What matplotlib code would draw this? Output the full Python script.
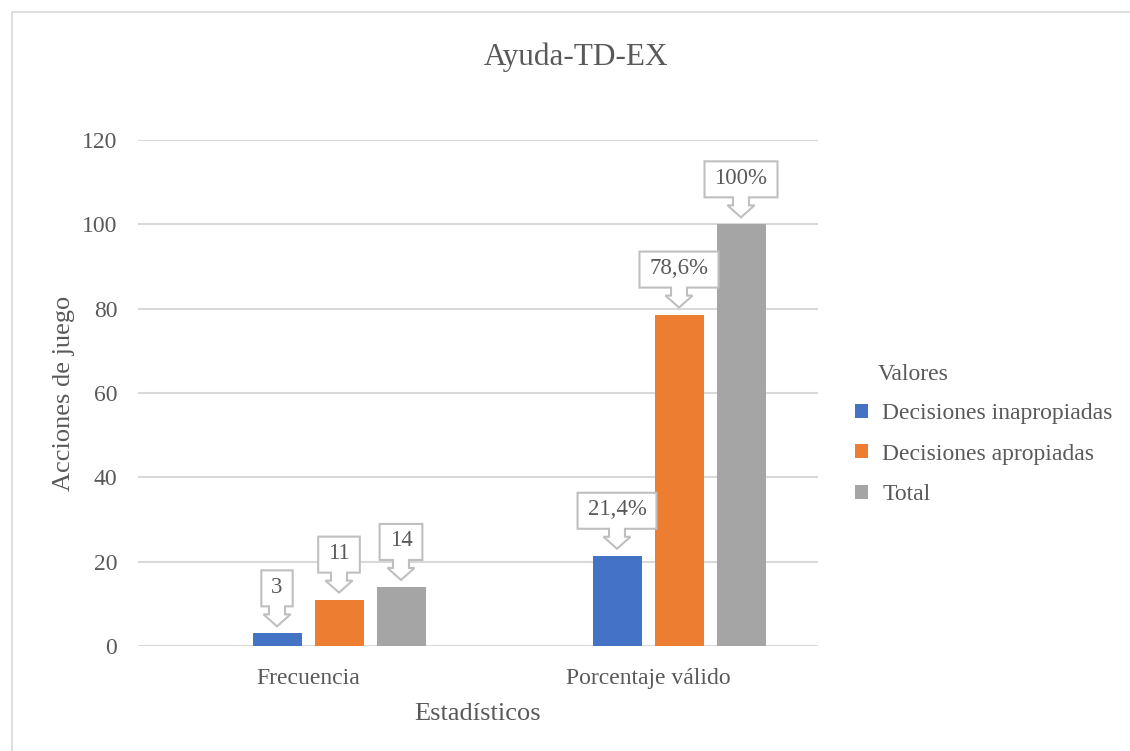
import matplotlib.pyplot as plt
from matplotlib.patches import Polygon, Rectangle

categories = ['Frecuencia', 'Porcentaje válido']
series = ['Decisiones inapropiadas', 'Decisiones apropiadas', 'Total']
values = [
    [3, 21.4],
    [11, 78.6],
    [14, 100],
]
labels = [
    ['3', '21,4%'],
    ['11', '78,6%'],
    ['14', '100%'],
]
colors = ['#4472C4', '#ED7D31', '#A5A5A5']
yticks = [0, 20, 40, 60, 80, 100, 120]

plt.rcParams['font.family'] = ['Liberation Serif', 'DejaVu Serif']
txt = '#595959'

W, H = 1130, 751
fig = plt.figure(figsize=(W / 100, H / 100), dpi=100)
ax = fig.add_axes([138 / W, 1 - 646 / H, 680 / W, 506 / H])

# Excel layout: 4 slots per category (first one empty), so groups look shifted
step = 62 / 340
width = 49 / 340
offsets = [-0.5 * step, 0.5 * step, 1.5 * step]

for i, name in enumerate(series):
    xs = [j + offsets[i] for j in range(len(categories))]
    ax.bar(xs, values[i], width=width, color=colors[i], label=name, zorder=3)

ax.set_xlim(-0.5, 1.5)
ax.set_ylim(0, 120)
ax.set_yticks(yticks)
ax.set_xticks(range(len(categories)))
ax.set_xticklabels(categories)
ax.grid(axis='y', color='#d9d9d9', lw=1.5, zorder=0)
for s in ax.spines.values():
    s.set_visible(False)
ax.tick_params(length=0, labelsize=17, colors=txt)
ax.tick_params(axis='y', pad=15)
ax.tick_params(axis='x', pad=16)
ax.set_ylabel('Acciones de juego', fontsize=19, color=txt, labelpad=5)
ax.set_xlabel('Estadísticos', fontsize=19, color=txt, labelpad=10)

fig.text(576 / W, 1 - 57 / H, 'Ayuda-TD-EX', ha='center', va='center', fontsize=22.5, color=txt)

# callout labels (box with down arrow)
fig.canvas.draw()
rend = fig.canvas.get_renderer()
inv = ax.transData.inverted()
for i in range(len(series)):
    for j in range(len(categories)):
        xc = j + offsets[i]
        px, py = ax.transData.transform((xc, values[i][j]))
        lab = labels[i][j]
        t = ax.text(xc, 0, lab, fontsize=16.5, color=txt, ha='center', va='center', zorder=6)
        tw = t.get_window_extent(renderer=rend).width
        bw = tw + 20
        tip = py + 7
        hb = tip + 12
        sb = hb + 8
        top = sb + 36
        pts = [
            (px - bw / 2, top), (px + bw / 2, top), (px + bw / 2, sb),
            (px + 8, sb), (px + 8, hb), (px + 13.5, hb), (px, tip),
            (px - 13.5, hb), (px - 8, hb), (px - 8, sb), (px - bw / 2, sb),
        ]
        poly = Polygon(inv.transform(pts), closed=True, facecolor='white',
                       edgecolor='#bfbfbf', lw=1.5, zorder=5, clip_on=False)
        ax.add_patch(poly)
        t.set_position(inv.transform((px, (sb + top) / 2 + 1)))

leg = ax.legend(loc='upper left', bbox_to_anchor=(834 / W, 1 - 343 / H),
                bbox_transform=fig.transFigure, frameon=False, fontsize=17,
                title='Valores', title_fontsize=17, alignment='left',
                handlelength=0.55, handleheight=0.55, handletextpad=0.6,
                labelspacing=0.82)
for tx in leg.get_texts():
    tx.set_color(txt)
leg.get_title().set_color(txt)
leg.get_title().set_position((22, 0))
leg._legend_box.sep = 13

fig.patches.append(Rectangle((12 / W, -0.05), 1.2, 1 - 12 / H + 0.05,
                             transform=fig.transFigure, fill=False,
                             edgecolor='#d9d9d9', lw=1.2))

fig.savefig('out.png', dpi=100)
